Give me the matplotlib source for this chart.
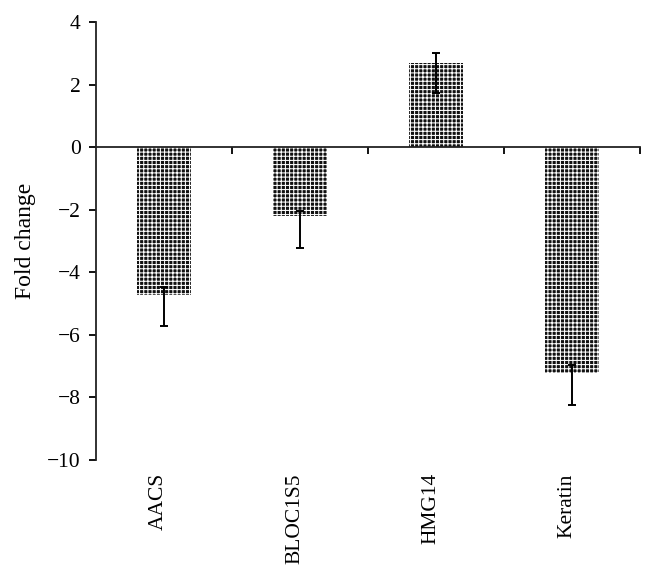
import matplotlib
matplotlib.use("Agg")
import matplotlib.pyplot as plt
import numpy as np

# data
genes = ["AACS", "BLOC1S5", "HMG14", "Keratin"]
fold_change = [-4.72, -2.2, 2.68, -7.22]
err_low = [1.0, 1.03, 0.96, 1.02]
err_high = [0.25, 0.16, 0.32, 0.26]
y_ticks = [4, 2, 0, -2, -4, -6, -8, -10]

plt.rcParams["font.family"] = ["Liberation Serif", "DejaVu Serif"]
plt.rcParams["font.size"] = 15.5
plt.rcParams["hatch.linewidth"] = 0.75
plt.rcParams["axes.unicode_minus"] = True

fig = plt.figure(figsize=(6.54, 5.72), dpi=100)
ax = fig.add_axes([96 / 654, 1 - 460 / 572, (640 - 96) / 654, (460 - 22) / 572])

x = np.arange(len(genes))
ax.bar(x, fold_change, width=0.4, facecolor="#111111", edgecolor="white",
       hatch="++++", linewidth=0, zorder=2)
ax.errorbar(x, fold_change, yerr=[err_low, err_high], fmt="none",
            ecolor="black", elinewidth=1.4, capsize=3, capthick=1.4, zorder=3)

ax.set_xlim(-0.5, len(genes) - 0.5)
ax.set_ylim(-10, 4)
ax.set_yticks(y_ticks)
ax.set_ylabel("Fold change", fontsize=17, labelpad=8)

ax.spines["top"].set_visible(False)
ax.spines["right"].set_visible(False)
ax.spines["bottom"].set_position(("data", 0))
for s in ("left", "bottom"):
    ax.spines[s].set_linewidth(1.3)
    ax.spines[s].set_color("#222222")

# category boundary ticks on the zero line
ax.set_xticks(x + 0.5)
ax.set_xticklabels([])
ax.tick_params(axis="x", direction="out", length=5, width=1.3)
ax.tick_params(axis="y", direction="out", length=5, width=1.3, pad=6)

# gene names below the plot area
for xi, name in zip(x, genes):
    ax.text(xi - 0.04, -0.03, name, rotation=90, ha="center", va="top",
            transform=ax.get_xaxis_transform())

fig.savefig("out.png", dpi=100)
